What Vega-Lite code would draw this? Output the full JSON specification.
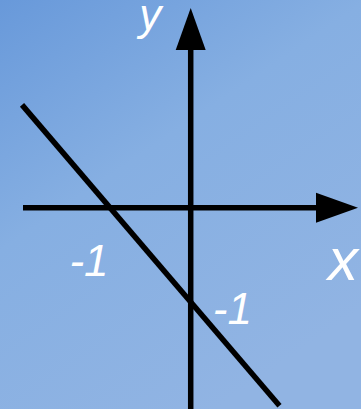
{
  "$schema": "https://vega.github.io/schema/vega-lite/v6.json",
  "width": 361,
  "height": 409,
  "autosize": {"type": "none"},
  "padding": 0,
  "background": "#86aee1",
  "config": {
    "view": {
      "stroke": null,
      "fill": {
        "gradient": "linear",
        "x1": 0, "y1": 0, "x2": 0.6, "y2": 1,
        "stops": [
          {"offset": 0, "color": "#6899da"},
          {"offset": 0.45, "color": "#86afe2"},
          {"offset": 1, "color": "#91b4e3"}
        ]
      }
    }
  },
  "datasets": {
    "lines": [
      {"name": "x-axis", "x": -2.078, "y": 0, "x2": 1.813, "y2": 0},
      {"name": "y-axis", "x": 0, "y": -2.14, "x2": 0, "y2": 1.895},
      {"name": "y=-x-1", "x": -2.09, "y": 1.09, "x2": 1.1, "y2": -2.1}
    ],
    "xhead": [{"x": 1.813, "y": 0}],
    "yhead": [{"x": 0, "y": 1.895}],
    "labels": [
      {"text": "y", "x": -0.5, "y": 1.88},
      {"text": "-1", "x": -1.26, "y": -0.725},
      {"text": "-1", "x": 0.517, "y": -1.236}
    ],
    "xlabel": [{"text": "x", "x": 1.886, "y": -0.767}]
  },
  "encoding": {
    "x": {"field": "x", "type": "quantitative", "scale": {"domain": [-2.363, 2.11], "nice": false, "zero": false}, "axis": null},
    "y": {"field": "y", "type": "quantitative", "scale": {"domain": [-2.135, 2.2025], "nice": false, "zero": false}, "axis": null}
  },
  "layer": [
    {
      "data": {"name": "lines"},
      "mark": {"type": "rule", "color": "black", "strokeWidth": 5.5, "strokeCap": "butt"},
      "encoding": {
        "x2": {"field": "x2"},
        "y2": {"field": "y2"}
      }
    },
    {
      "data": {"name": "xhead"},
      "mark": {"type": "point", "shape": "M-1,-0.714L1,0L-1,0.714Z", "size": 1764, "filled": true, "color": "black", "opacity": 1, "strokeWidth": 0}
    },
    {
      "data": {"name": "yhead"},
      "mark": {"type": "point", "shape": "M-0.714,1L0,-1L0.714,1Z", "size": 1764, "filled": true, "color": "black", "opacity": 1, "strokeWidth": 0}
    },
    {
      "data": {"name": "labels"},
      "mark": {"type": "text", "font": "Liberation Sans", "fontStyle": "italic", "fontSize": 44, "color": "white", "align": "center", "baseline": "alphabetic"},
      "encoding": {"text": {"field": "text"}}
    },
    {
      "data": {"name": "xlabel"},
      "mark": {"type": "text", "font": "Liberation Sans", "fontStyle": "italic", "fontSize": 60, "color": "white", "align": "center", "baseline": "alphabetic"},
      "encoding": {"text": {"field": "text"}}
    }
  ]
}
